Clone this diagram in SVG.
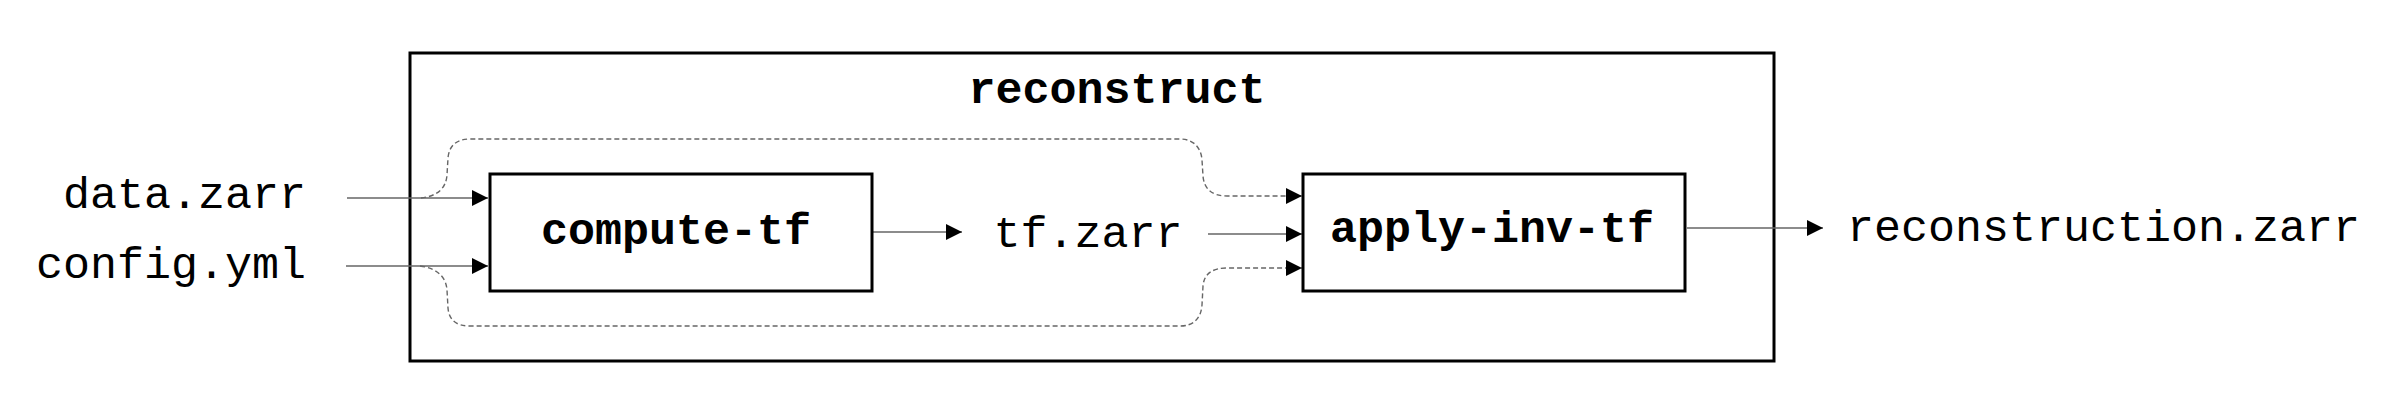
<svg xmlns="http://www.w3.org/2000/svg" width="2402" height="420" viewBox="0 0 2402 420">
<defs>
<style>
.box{fill:#fff;stroke:#000;stroke-width:3}
.cluster{fill:none;stroke:#000;stroke-width:3}
.t{font-family:"Liberation Mono","Courier New",monospace;font-size:45px;fill:#000}
.b{font-weight:bold}
.e{fill:none;stroke:#666;stroke-width:1.5}
.d{fill:none;stroke:#666;stroke-width:1.4;stroke-dasharray:5 3}
</style>
<marker id="ah" viewBox="0 0 16 16" refX="16" refY="8" markerWidth="16" markerHeight="16" markerUnits="userSpaceOnUse" orient="auto">
<path d="M0,0 L16,8 L0,16 z" fill="#000"/>
</marker>
</defs>
<rect width="2402" height="420" fill="#fff"/>
<g id="cluster-reconstruct">
<rect class="cluster" x="410" y="53" width="1364" height="308"/>
<text class="t b" x="1117" y="103" text-anchor="middle">reconstruct</text>
</g>
<g id="edges">
<path class="e" d="M347,198 L488,198" marker-end="url(#ah)"/>
<path class="e" d="M346,266 L488,266" marker-end="url(#ah)"/>
<path class="d" d="M421,198 C438,196 446,188 447,175 L448,158 C449,146 456,139 470,139 L1180,139 C1193,139 1201,147 1202,160 L1203,176 C1204,189 1212,196 1227,196 L1302,196" marker-end="url(#ah)"/>
<path class="d" d="M420,266 C436,268 446,276 447,290 L448,308 C449,320 456,326 470,326 L1180,326 C1194,326 1201,318 1202,305 L1203,286 C1204,274 1212,268 1227,268 L1302,268" marker-end="url(#ah)"/>
<path class="e" d="M873,232 L962,232" marker-end="url(#ah)"/>
<path class="e" d="M1208,234 L1302,234" marker-end="url(#ah)"/>
<path class="e" d="M1687,228 L1823,228" marker-end="url(#ah)"/>
</g>
<g id="data-zarr"><text class="t" x="306" y="208" text-anchor="end">data.zarr</text></g>
<g id="config-yml"><text class="t" x="306" y="278" text-anchor="end">config.yml</text></g>
<g id="compute-tf">
<rect class="box" x="490" y="174" width="382" height="117"/>
<text class="t b" x="676" y="244" text-anchor="middle">compute-tf</text>
</g>
<g id="tf-zarr"><text class="t" x="1088" y="247" text-anchor="middle">tf.zarr</text></g>
<g id="apply-inv-tf">
<rect class="box" x="1303" y="174" width="382" height="117"/>
<text class="t b" x="1492" y="242" text-anchor="middle">apply-inv-tf</text>
</g>
<g id="reconstruction-zarr"><text class="t" x="1847" y="241">reconstruction.zarr</text></g>
</svg>
